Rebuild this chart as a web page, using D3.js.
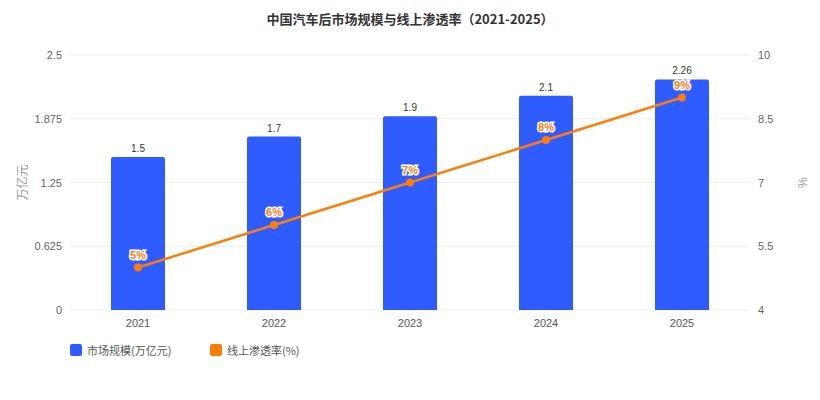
<!DOCTYPE html>
<html>
<head>
<meta charset="utf-8">
<script src="https://cdn.jsdelivr.net/npm/d3@7"></script>
<style>
  body { margin: 0; background: #fff; }
  text { font-family: "Liberation Sans", Arial, "Noto Sans CJK SC", sans-serif; }
</style>
</head>
<body>
<div id="chart"></div>
<script>
// Data
const years = ["2021", "2022", "2023", "2024", "2025"];
const marketSize = [1.5, 1.7, 1.9, 2.1, 2.26];
const onlineRate = [5, 6, 7, 8, 9];
const leftTicks = [0, 0.625, 1.25, 1.875, 2.5];
const rightTicks = [4, 5.5, 7, 8.5, 10];

const W = 820, H = 400;
const margin = {top: 55, right: 70, bottom: 90, left: 70};
const width = W - margin.left - margin.right;
const height = H - margin.top - margin.bottom;

const svg = d3.select("#chart").append("svg")
  .attr("width", W)
  .attr("height", H);

const g = svg.append("g")
  .attr("transform", `translate(${margin.left},${margin.top})`);

const x = d3.scaleBand().domain(years).range([0, width]);
const yL = d3.scaleLinear().domain([0, 2.5]).range([height, 0]);
const yR = d3.scaleLinear().domain([4, 10]).range([height, 0]);

const blue = "#2f5cff";
const orange = "#fb7e0a";

// Grid lines
g.selectAll(".grid")
  .data(leftTicks)
  .enter().append("line")
    .attr("x1", 0).attr("x2", width)
    .attr("y1", d => yL(d)).attr("y2", d => yL(d))
    .attr("stroke", "#eeeeee")
    .attr("stroke-width", 1);

// Left axis
const axL = g.append("g")
  .call(d3.axisLeft(yL).tickValues(leftTicks).tickSize(0).tickPadding(8).tickFormat(d => d));
axL.select(".domain").remove();
axL.selectAll("text").attr("fill", "#666").style("font-size", "11px")
  .style("font-family", "'Liberation Sans', Arial, sans-serif");

// Right axis
const axR = g.append("g")
  .attr("transform", `translate(${width},0)`)
  .call(d3.axisRight(yR).tickValues(rightTicks).tickSize(0).tickPadding(8).tickFormat(d => d));
axR.select(".domain").remove();
axR.selectAll("text").attr("fill", "#666").style("font-size", "11px")
  .style("font-family", "'Liberation Sans', Arial, sans-serif");

// Bottom axis
const axB = g.append("g")
  .attr("transform", `translate(0,${height})`)
  .call(d3.axisBottom(x).tickSize(0).tickPadding(9));
axB.select(".domain").remove();
axB.selectAll("text").attr("fill", "#555").style("font-size", "11px")
  .style("font-family", "'Liberation Sans', Arial, sans-serif");

// Axis titles
g.append("text")
  .attr("transform", `translate(${-43},${height / 2}) rotate(-90)`)
  .attr("text-anchor", "middle")
  .attr("fill", "#999")
  .style("font-size", "12px")
  .style("font-family", "'Noto Sans CJK SC', sans-serif")
  .text("万亿元");

g.append("text")
  .attr("transform", `translate(${width + 48},${height / 2}) rotate(90)`)
  .attr("text-anchor", "middle")
  .attr("fill", "#999")
  .style("font-size", "12px")
  .text("%");

// Bars
const barW = 54;
g.selectAll(".bar")
  .data(years)
  .enter().append("path")
    .attr("fill", blue)
    .attr("d", (d, i) => {
      const x0 = x(d) + x.bandwidth() / 2 - barW / 2;
      const y0 = yL(marketSize[i]);
      const h = height - y0;
      const r = 2;
      return `M${x0},${y0 + h} V${y0 + r} Q${x0},${y0} ${x0 + r},${y0} H${x0 + barW - r} Q${x0 + barW},${y0} ${x0 + barW},${y0 + r} V${y0 + h} Z`;
    });

// Bar value labels
g.selectAll(".barLabel")
  .data(years)
  .enter().append("text")
    .attr("x", d => x(d) + x.bandwidth() / 2)
    .attr("y", (d, i) => yL(marketSize[i]) - 5)
    .attr("text-anchor", "middle")
    .attr("fill", "#333")
    .style("font-size", "10px")
    .text((d, i) => marketSize[i]);

// Line
const line = d3.line()
  .x((d, i) => x(years[i]) + x.bandwidth() / 2)
  .y(d => yR(d));

g.append("path")
  .datum(onlineRate)
  .attr("fill", "none")
  .attr("stroke", orange)
  .attr("stroke-width", 2.5)
  .attr("d", line);

g.selectAll(".dot")
  .data(onlineRate)
  .enter().append("circle")
    .attr("cx", (d, i) => x(years[i]) + x.bandwidth() / 2)
    .attr("cy", d => yR(d))
    .attr("r", 4)
    .attr("fill", orange);

// Line labels
g.selectAll(".lineLabel")
  .data(onlineRate)
  .enter().append("text")
    .attr("x", (d, i) => x(years[i]) + x.bandwidth() / 2)
    .attr("y", d => yR(d) - 9)
    .attr("text-anchor", "middle")
    .attr("fill", orange)
    .attr("stroke", "#fff")
    .attr("stroke-width", 3)
    .attr("paint-order", "stroke")
    .style("font-size", "11px")
    .style("font-weight", "bold")
    .text(d => d + "%");

// Title
svg.append("text")
  .attr("x", W / 2)
  .attr("y", 24)
  .attr("text-anchor", "middle")
  .attr("fill", "#333")
  .style("font-size", "13px")
  .style("font-weight", "bold")
  .style("font-family", "'Noto Sans CJK SC', sans-serif")
  .text("中国汽车后市场规模与线上渗透率（2021-2025）");

// Legend
const legendItems = [
  {label: "市场规模(万亿元)", color: blue, x: 70},
  {label: "线上渗透率(%)", color: orange, x: 210}
];
const legend = svg.selectAll(".legend")
  .data(legendItems)
  .enter().append("g")
    .attr("transform", d => `translate(${d.x},344)`);
legend.append("rect")
  .attr("width", 12).attr("height", 12)
  .attr("rx", 2)
  .attr("fill", d => d.color);
legend.append("text")
  .attr("x", 17)
  .attr("y", 10.5)
  .attr("fill", "#555")
  .style("font-size", "11px")
  .style("font-family", "'Noto Sans CJK SC', sans-serif")
  .text(d => d.label);
</script>
</body>
</html>
